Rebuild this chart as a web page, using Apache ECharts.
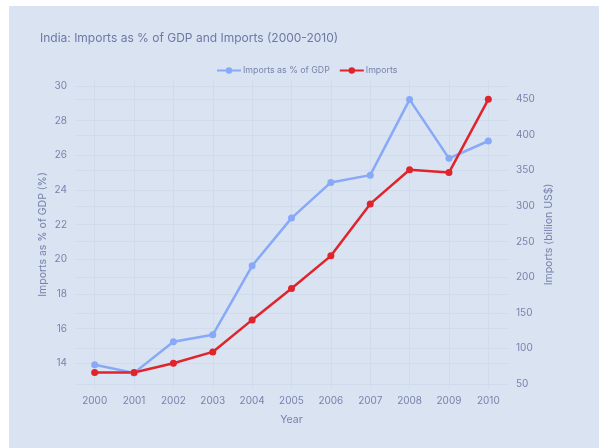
<!DOCTYPE html>
<html>
<head>
<meta charset="utf-8">
<script src="https://cdn.jsdelivr.net/npm/echarts@6/dist/echarts.min.js"></script>
<style>
  html, body { margin: 0; padding: 0; background: #ffffff; }
  #chart { position: absolute; left: 9px; top: 6px; width: 590px; height: 442px; }
</style>
</head>
<body>
<div id="chart"></div>
<script>
// India imports, 2000-2010
const years = ['2000', '2001', '2002', '2003', '2004', '2005', '2006', '2007', '2008', '2009', '2010'];
const importsPctGdp = [13.92, 13.45, 15.25, 15.65, 19.63, 22.38, 24.44, 24.86, 29.22, 25.83, 26.83];
const importsBillionUsd = [66, 66, 79, 95, 140, 184, 230, 303, 351, 347, 450];

const seriesNames = ['Imports as % of GDP', 'Imports'];
const titleText = 'India: Imports as % of GDP and Imports (2000-2010)';
const xAxisName = 'Year';
const leftAxisName = 'Imports as % of GDP (%)';
const rightAxisName = 'Imports (billion US$)';

const FONT = 'Inter, "Open Sans", sans-serif';
const TEXT = '#7883ad';
const GRID = '#d0dbeb';
const BLUE = '#87a9f8';
const RED = '#e0242b';

const chart = echarts.init(document.getElementById('chart'), null, { renderer: 'canvas' });

chart.setOption({
  animation: false,
  backgroundColor: '#dae3f1',
  textStyle: { fontFamily: FONT },
  title: {
    text: titleText,
    left: 26,
    top: 21,
    textStyle: { fontFamily: FONT, fontSize: 12, fontWeight: 'normal', color: '#6d78a6' }
  },
  legend: {
    data: seriesNames,
    left: 202,
    top: 55,
    itemWidth: 24,
    itemHeight: 8,
    itemGap: 9,
    textStyle: { fontFamily: FONT, fontSize: 8.8, color: TEXT, padding: [0, 0, 0, -3] }
  },
  grid: { left: 66, top: 74, width: 433, height: 309 },
  xAxis: {
    type: 'category',
    data: years,
    boundaryGap: true,
    name: xAxisName,
    nameLocation: 'middle',
    nameGap: 25,
    nameTextStyle: { fontFamily: FONT, fontSize: 10.5, color: TEXT },
    axisLine: { show: false },
    axisTick: { show: false },
    axisLabel: { color: TEXT, fontSize: 10, margin: 7, fontFamily: FONT },
    splitLine: { show: true, alignWithLabel: true, lineStyle: { color: GRID, width: 1 } }
  },
  yAxis: [
    {
      type: 'value',
      position: 'left',
      min: 12.52,
      max: 30.35,
      minInterval: 2,
      maxInterval: 2,
      alignTicks: false,
      name: leftAxisName,
      nameLocation: 'middle',
      nameGap: 27,
      nameMoveOverlap: false,
      nameTextStyle: { fontFamily: FONT, fontSize: 10.5, color: TEXT },
      axisLine: { show: false },
      axisTick: { show: false },
      axisLabel: { color: TEXT, fontSize: 10, margin: 8, fontFamily: FONT, showMinLabel: false, showMaxLabel: false },
      splitLine: { show: true, showMinLine: false, showMaxLine: false, lineStyle: { color: GRID, width: 1 } }
    },
    {
      type: 'value',
      position: 'right',
      min: 42.9,
      max: 477.1,
      minInterval: 50,
      maxInterval: 50,
      alignTicks: false,
      name: rightAxisName,
      nameLocation: 'middle',
      nameGap: 35,
      nameMoveOverlap: false,
      nameTextStyle: { fontFamily: FONT, fontSize: 10.5, color: TEXT },
      axisLine: { show: false },
      axisTick: { show: false },
      axisLabel: { color: TEXT, fontSize: 10, margin: 8, fontFamily: FONT, showMinLabel: false, showMaxLabel: false },
      splitLine: { show: true, showMinLine: false, showMaxLine: false, lineStyle: { color: GRID, width: 1 } }
    }
  ],
  series: [
    {
      name: seriesNames[0],
      type: 'line',
      yAxisIndex: 0,
      data: importsPctGdp,
      symbol: 'circle',
      symbolSize: 7,
      color: BLUE,
      lineStyle: { width: 2.5, color: BLUE },
      itemStyle: { color: BLUE }
    },
    {
      name: seriesNames[1],
      type: 'line',
      yAxisIndex: 1,
      data: importsBillionUsd,
      symbol: 'circle',
      symbolSize: 7,
      color: RED,
      lineStyle: { width: 2.5, color: RED },
      itemStyle: { color: RED }
    }
  ]
});
</script>
</body>
</html>
